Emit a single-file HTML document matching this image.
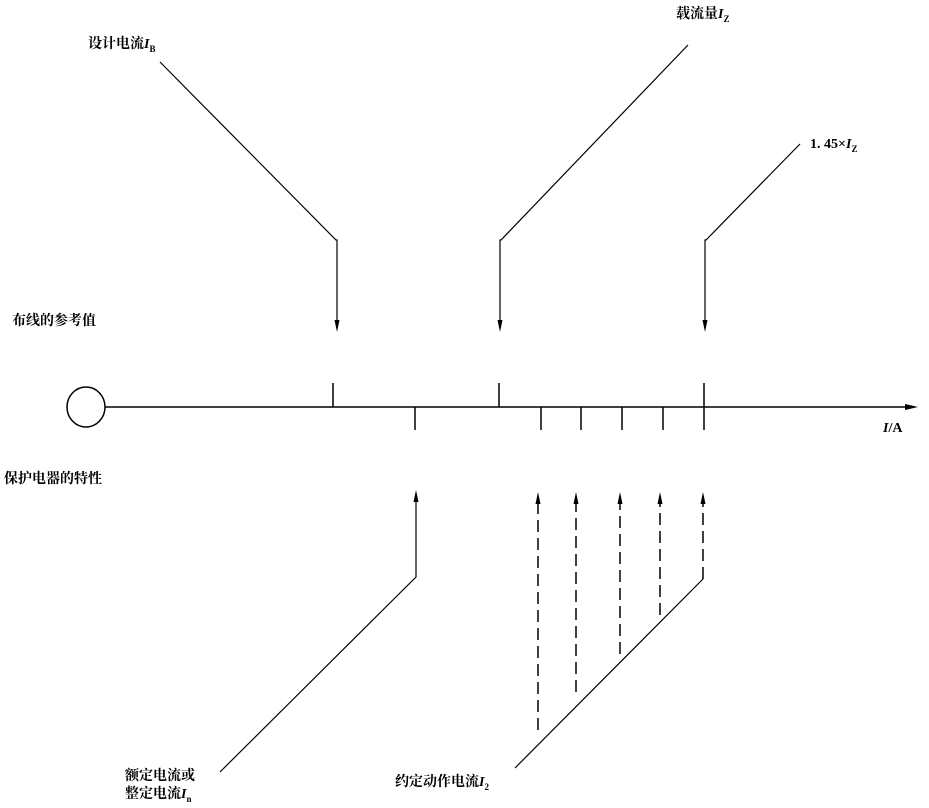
<!DOCTYPE html>
<html><head><meta charset="utf-8"><style>
html,body{margin:0;padding:0;background:#fff;}
svg{display:block;}
text{font-family:"Liberation Serif","Noto Serif CJK SC","Noto Sans CJK SC",serif;font-weight:bold;font-size:14px;fill:#000;}
.i{font-style:italic;}
</style></head><body>
<svg width="929" height="808" viewBox="0 0 929 808" xmlns="http://www.w3.org/2000/svg">
<g stroke="#000" stroke-width="1.5" fill="none">
<ellipse cx="86" cy="407" rx="19" ry="20"/>
<line x1="105" y1="407" x2="912" y2="407"/>
<line x1="333" y1="383" x2="333" y2="407"/>
<line x1="499" y1="383" x2="499" y2="407"/>
<line x1="704" y1="383" x2="704" y2="430"/>
<line x1="415" y1="407" x2="415" y2="430"/>
<line x1="541" y1="407" x2="541" y2="430"/>
<line x1="581" y1="407" x2="581" y2="430"/>
<line x1="622" y1="407" x2="622" y2="430"/>
<line x1="663" y1="407" x2="663" y2="430"/>
<polyline points="160,62 336,240 337,240 337,322" stroke-width="1.2"/>
<polyline points="688,45 501,240 500,240 500,322" stroke-width="1.2"/>
<polyline points="800,144 706,240 705,240 705,322" stroke-width="1.2"/>
<polyline points="220,772 416,577 416,500" stroke-width="1.2"/>
<line x1="515" y1="768" x2="703" y2="579" stroke-width="1.2"/>
<g stroke-dasharray="12,6" stroke-width="1.5">
<line x1="538" y1="730" x2="538" y2="500"/>
<line x1="576" y1="692" x2="576" y2="500"/>
<line x1="620" y1="654" x2="620" y2="500"/>
<line x1="660" y1="615" x2="660" y2="500"/>
<line x1="703" y1="579" x2="703" y2="500"/>
</g>
</g>
<g fill="#000">
<path d="M905,404 L918,407 L905,410 Z"/>
<path d="M334.5,320 L337,332 L339.5,320 Z"/>
<path d="M497.5,320 L500,332 L502.5,320 Z"/>
<path d="M702.5,320 L705,332 L707.5,320 Z"/>
<path d="M413.5,502 L416,490 L418.5,502 Z"/>
<path d="M535.5,504 L538,492 L540.5,504 Z"/>
<path d="M573.5,504 L576,492 L578.5,504 Z"/>
<path d="M617.5,504 L620,492 L622.5,504 Z"/>
<path d="M657.5,504 L660,492 L662.5,504 Z"/>
<path d="M700.5,504 L703,492 L705.5,504 Z"/>
</g>
<text x="88" y="48">设计电流<tspan class="i">I</tspan><tspan font-size="9" dy="4">B</tspan></text>
<text x="676" y="18">载流量<tspan class="i">I</tspan><tspan font-size="9" dy="4">Z</tspan></text>
<text x="810" y="148">1. 45×<tspan class="i">I</tspan><tspan font-size="9" dy="4">Z</tspan></text>
<text x="12" y="325">布线的参考值</text>
<text x="4" y="483">保护电器的特性</text>
<text x="883" y="432"><tspan class="i">I</tspan>/A</text>
<text x="125" y="780">额定电流或</text>
<text x="125" y="798">整定电流<tspan class="i">I</tspan><tspan font-size="9" dy="4">n</tspan></text>
<text x="395" y="786">约定动作电流<tspan class="i">I</tspan><tspan font-size="9" dy="4">2</tspan></text>
</svg>
</body></html>
